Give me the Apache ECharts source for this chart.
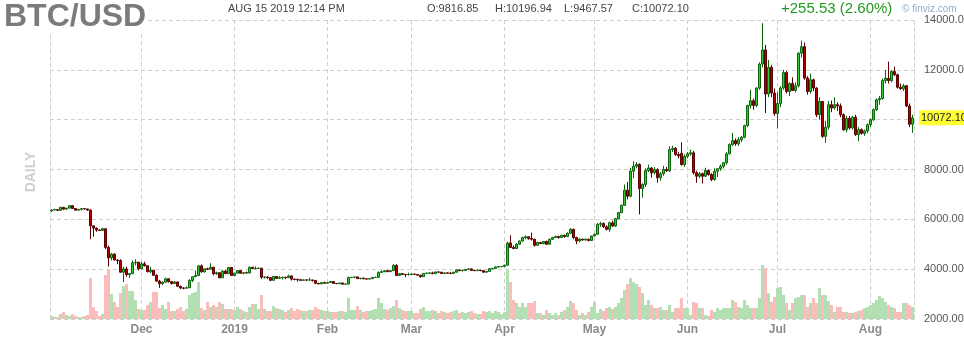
<!DOCTYPE html>
<html>
<head>
<meta charset="utf-8">
<script src="https://cdn.jsdelivr.net/npm/echarts@6/dist/echarts.min.js"></script>
<style>
html,body{margin:0;padding:0;background:#fff;overflow:hidden;}
#chart{width:964px;height:340px;}
</style>
</head>
<body>
<div id="chart"></div>
<script>
// ---- data (daily BTC/USD, 2018-11-01 .. 2019-08-15) ----
const startDate = '2018-11-01';
const dayCount = 288;

const opens = [
// Nov
6340,6377,6388,6361,6483,6410,6451,6550,6434,6368,6400,6428,6416,6373,5738,5648,5575,5554,5623,4871,4451,4602,4365,4347,3880,4009,3779,3820,4257,4278,
// Dec
4017,4214,4139,3894,3956,3753,3521,3419,3476,3614,3502,3424,3486,3313,3242,3236,3253,3545,3696,3745,4134,3896,4014,3998,4078,3815,3857,3654,3923,3820,4070,
// Jan
3743,3843,3943,3837,3858,3845,4076,4025,4030,4035,3678,3687,3661,3553,3706,3630,3655,3678,3657,3728,3602,3589,3575,3552,3569,3565,3566,3550,3434,3411,3458,
// Feb
3434,3462,3504,3427,3418,3447,3398,3401,3667,3674,3689,3621,3639,3612,3602,3619,3667,3673,3870,3900,3940,3900,3940,4150,3750,3820,3790,3780,
// Mar
3790,3800,3790,3760,3700,3830,3840,3850,3820,3890,3880,3830,3850,3840,3830,3880,3970,3940,3950,3990,4010,3950,3940,3960,3940,3880,3910,4020,4030,4090,4100,
// Apr
4110,4160,5050,4870,4830,5000,5130,5270,5300,5230,5200,4960,5070,5030,5110,5000,5200,5270,5310,5270,5360,5310,5440,5600,5270,5130,5200,5170,5200,5150,
// May
5330,5400,5800,5830,5700,5600,5860,5730,6030,6270,6560,7170,6930,7930,8130,8200,7240,7400,7960,8060,7870,7990,7670,7830,8000,7950,8800,8850,8600,8650,8200,
// Jun
8530,8630,8670,7870,7730,7830,7730,7960,7800,7600,7930,8030,8130,8270,8630,9000,9160,9030,9200,9290,9760,10570,10760,10570,11270,12230,12800,11030,12100,11070,
// Jul
10250,10650,11270,11890,11130,11450,11170,11360,12670,12930,11670,11130,11600,11270,10200,10730,9330,9700,10600,10470,10600,10550,10200,9600,10050,9670,10100,9400,9600,9450,9550,
// Aug
9800,10000,10400,10800,10850,11570,11660,11570,11930,11800,11300,11240,11360,10550,9816.85
];

const highs = [
6400,6425,6400,6500,6485,6456,6560,6552,6442,6420,6430,6450,6425,6394,5755,5670,5600,5660,5630,4950,4650,4640,4400,4400,4100,4100,3850,4350,4400,4300,
4300,4300,4140,4100,3970,3790,3570,3510,3660,3630,3520,3530,3500,3340,3275,3305,3600,3700,3950,4140,4190,4020,4060,4240,4080,3900,3870,3950,3970,4090,4080,
3850,3960,3945,3880,3900,4100,4100,4110,4070,4060,3710,3710,3670,3730,3720,3730,3690,3685,3780,3750,3610,3630,3610,3590,3580,3660,3570,3555,3440,3480,3500,
3480,3510,3510,3440,3450,3450,3420,3700,3680,3690,3695,3650,3660,3620,3640,3680,3700,3910,3950,3950,3960,3950,4200,4200,3840,3830,3810,3860,
3830,3820,3800,3770,3840,3860,3870,3900,3900,3900,3890,3870,3870,3890,3890,3990,3980,3990,4000,4030,4030,3980,3980,3970,3950,3920,4030,4040,4100,4120,4120,
4180,5100,5360,4950,5050,5150,5300,5350,5320,5470,5220,5100,5100,5130,5150,5230,5300,5350,5340,5380,5380,5480,5650,5620,5300,5250,5230,5230,5220,5350,
5430,5850,5900,5880,5760,5900,5950,6050,6300,6600,7400,7500,8070,8330,8300,8250,7450,8050,8200,8100,8100,8050,7900,8150,8100,8930,8950,8900,8700,9090,8600,
8700,8800,8750,7950,7900,7880,8070,8000,7850,8050,8050,8200,8300,8700,9050,9470,9250,9300,9350,9800,10600,11200,10850,11300,12300,13870,13000,12400,12200,11250,
11100,11350,12000,11950,11500,11700,11500,12700,13170,13100,11750,11850,11650,11300,10900,10750,9950,10750,10770,10900,10700,10650,10250,10150,10150,10150,10200,9700,9650,9600,9850,
10050,10450,10850,10950,11650,12000,12330,11980,12130,11850,11450,11440,11400,10650,10196.94
];

const lows = [
6300,6365,6340,6350,6375,6388,6440,6420,6350,6360,6355,6395,6340,5200,5300,5500,5530,5540,4800,4100,4350,4360,4200,3850,3480,3700,3650,3800,4150,3950,
4000,4100,3880,3840,3740,3500,3250,3360,3460,3460,3380,3410,3300,3200,3190,3230,3250,3480,3690,3740,3860,3860,3960,3990,3750,3770,3640,3650,3800,3810,3740,
3710,3820,3820,3790,3840,3840,4000,3990,4010,3600,3620,3600,3520,3540,3620,3620,3580,3600,3655,3540,3550,3500,3540,3550,3520,3550,3500,3400,3390,3400,3430,
3420,3450,3420,3400,3410,3390,3390,3390,3640,3640,3610,3590,3600,3580,3600,3610,3650,3660,3850,3880,3880,3890,3930,3720,3730,3760,3680,3750,
3770,3770,3750,3660,3690,3800,3820,3800,3810,3850,3800,3800,3820,3800,3820,3870,3920,3910,3930,3960,3930,3920,3930,3920,3860,3860,3900,3990,4020,4060,4080,
4090,4150,4850,4800,4820,4980,5100,5200,5180,5150,4900,4930,5000,5000,4980,4990,5180,5250,5220,5250,5260,5290,5420,5200,5000,5080,5140,5150,5120,5140,
5320,5390,5700,5650,5550,5500,5700,5700,6000,6250,6550,6800,6880,7650,8050,6200,6870,7300,7900,7670,7800,7470,7550,7750,7900,7900,8700,8550,8450,8150,8100,
8450,8550,7800,7470,7650,7440,7700,7750,7530,7550,7700,7950,8050,8200,8600,8950,8950,8950,9100,9250,9700,10450,10400,10500,11200,12100,10270,10900,10900,10150,
9650,10500,11200,11050,10950,11150,11100,11300,12500,11600,11000,11050,11150,10100,10000,9270,9070,9600,10300,10400,10350,10100,9550,9500,9600,9600,9350,9130,9400,9350,9450,
9700,9950,10350,10600,10800,11450,11450,11500,11750,11250,11200,11150,10500,9700,9467.57
];

const closes = [
6377,6388,6361,6483,6410,6451,6550,6434,6368,6400,6428,6416,6373,5738,5648,5575,5554,5623,4871,4451,4602,4365,4347,3880,4009,3779,3820,4257,4278,4017,
4214,4139,3894,3956,3753,3521,3419,3476,3614,3502,3424,3486,3313,3242,3236,3253,3545,3696,3745,4134,3896,4014,3998,4078,3815,3857,3654,3923,3820,4070,3743,
3843,3943,3837,3858,3845,4076,4025,4030,4035,3678,3687,3661,3553,3706,3630,3655,3678,3657,3728,3602,3589,3575,3552,3569,3565,3566,3550,3434,3411,3458,3434,
3462,3504,3427,3418,3447,3398,3401,3667,3674,3689,3621,3639,3612,3602,3619,3667,3673,3870,3900,3940,3900,3940,4150,3750,3820,3790,3780,3790,
3800,3790,3760,3700,3830,3840,3850,3820,3890,3880,3830,3850,3840,3830,3880,3970,3940,3950,3990,4010,3950,3940,3960,3940,3880,3910,4020,4030,4090,4100,4110,
4160,5050,4870,4830,5000,5130,5270,5300,5230,5200,4960,5070,5030,5110,5000,5200,5270,5310,5270,5360,5310,5440,5600,5270,5130,5200,5170,5200,5150,5330,
5400,5800,5830,5700,5600,5860,5730,6030,6270,6560,7170,6930,7930,8130,8200,7240,7400,7960,8060,7870,7990,7670,7830,8000,7950,8800,8850,8600,8550,8200,8530,
8630,8670,7870,7730,7830,7730,7960,7800,7600,7930,8030,8130,8270,8630,9000,9160,9030,9200,9290,9760,10570,10760,10570,11270,12230,12800,11030,12100,11070,10250,
10650,11270,11890,11130,11450,11170,11360,12670,12930,11670,11130,11600,11270,10200,10730,9330,9700,10600,10470,10600,10550,10200,9600,10050,9670,10100,9400,9600,9450,9550,9800,
10000,10400,10800,10850,11570,11660,11570,11930,11800,11300,11240,11360,10550,9817,10072.10
];

// volume (relative units)
const volumes = [
3,2,2,5,7,4,3,5,3,2,2,3,4,41,12,8,3,5,44,50,25,17,12,26,33,35,28,28,19,10,
9,9,14,17,27,27,11,14,10,17,8,8,10,12,8,10,24,26,27,37,11,9,17,12,14,12,17,15,10,10,10,
9,12,10,8,7,12,15,15,10,24,10,8,8,13,11,10,9,7,9,11,8,10,9,8,8,9,9,12,10,9,8,
8,7,7,7,8,8,7,21,9,9,13,9,7,8,8,9,10,21,16,10,9,11,13,19,11,9,8,8,
8,6,6,10,12,8,8,9,8,6,8,7,6,7,8,9,6,7,6,7,8,6,5,5,8,7,8,6,8,7,5,
7,49,37,19,16,12,16,12,16,16,18,6,6,4,9,6,4,6,4,7,9,12,18,16,9,4,6,4,7,12,
17,6,10,8,11,12,10,12,16,21,29,35,41,37,35,32,26,14,19,14,11,11,12,9,9,14,7,11,11,21,11,
11,4,17,16,11,11,4,3,9,7,11,9,11,11,11,19,17,12,11,19,14,11,11,11,21,54,51,26,17,22,
31,32,24,16,9,16,21,22,24,24,12,16,21,16,31,24,24,18,14,7,12,12,7,7,6,6,7,8,9,11,12,
14,16,19,23,21,17,14,12,11,7,7,16,16,14,12
];

const yTicks = [2000, 4000, 6000, 8000, 10000, 12000, 14000];
const monthNames = ['Jan','Feb','Mar','Apr','May','Jun','Jul','Aug','Sep','Oct','Nov','Dec'];
const lastPrice = 10072.10;

// ---- build ----
[opens, highs, lows, closes, volumes].forEach((a, k) => {
  if (a.length !== dayCount) throw new Error('array ' + k + ' has length ' + a.length);
});

const dates = [];
{
  const t0 = Date.parse(startDate + 'T00:00:00Z');
  for (let i = 0; i < dayCount; i++) {
    dates.push(new Date(t0 + i * 86400000).toISOString().slice(0, 10));
  }
}
const candleData = dates.map((d, i) => [opens[i], closes[i], lows[i], highs[i]]);
const volData = dates.map((d, i) => ({
  value: volumes[i],
  itemStyle: { color: closes[i] >= opens[i] ? '#b2e0b2' : '#fbbcbc' }
}));

const isMonthStart = (idx, val) => idx > 0 && val.slice(8) === '01';
const FONT = '"Liberation Sans", Arial, sans-serif';

const chart = echarts.init(document.getElementById('chart'), null, { renderer: 'canvas' });
chart.setOption({
  animation: false,
  backgroundColor: '#ffffff',
  textStyle: { fontFamily: FONT },
  title: [
    { text: 'BTC/USD', left: 4, top: 1, padding: [0, 2, 0, 0], backgroundColor: '#ffffff',
      textStyle: { fontSize: 32, fontWeight: 'bold', color: '#7b7b7b', fontFamily: FONT } },
    { text: 'AUG 15 2019 12:14 PM', left: 228, top: 3, padding: 0,
      textStyle: { fontSize: 11, fontWeight: 'normal', color: '#444', fontFamily: FONT } },
    { text: 'O:9816.85', left: 427, top: 3, padding: 0,
      textStyle: { fontSize: 11, fontWeight: 'normal', color: '#444', fontFamily: FONT } },
    { text: 'H:10196.94', left: 495, top: 3, padding: 0,
      textStyle: { fontSize: 11, fontWeight: 'normal', color: '#444', fontFamily: FONT } },
    { text: 'L:9467.57', left: 564, top: 3, padding: 0,
      textStyle: { fontSize: 11, fontWeight: 'normal', color: '#444', fontFamily: FONT } },
    { text: 'C:10072.10', left: 632, top: 3, padding: 0,
      textStyle: { fontSize: 11, fontWeight: 'normal', color: '#444', fontFamily: FONT } },
    { text: '+255.53 (2.60%)', left: 781, top: 1, padding: 0,
      textStyle: { fontSize: 15, fontWeight: 'normal', color: '#1f9a1f', fontFamily: FONT } },
    { text: '© finviz.com', left: 902, top: 4, padding: 0,
      textStyle: { fontSize: 10, fontWeight: 'normal', color: '#8fb0cf', fontFamily: FONT } }
  ],
  graphic: [
    { type: 'text', x: 31, y: 172, rotation: Math.PI / 2,
      style: { text: 'DAILY', fill: '#cfcfcf', font: 'bold 14px ' + FONT,
               textAlign: 'center', textVerticalAlign: 'middle' } }
  ],
  grid: { left: 50, right: 50, top: 20, bottom: 21, containLabel: false, outerBoundsMode: 'none' },
  xAxis: {
    type: 'category',
    data: dates,
    boundaryGap: true,
    axisLine: { show: false },
    axisTick: { show: false, alignWithLabel: true },
    axisLabel: {
      interval: isMonthStart,
      formatter: (val) => {
        const m = +val.slice(5, 7);
        return m === 1 ? val.slice(0, 4) : monthNames[m - 1];
      },
      color: '#8a8a8a', fontSize: 12, fontWeight: 'bold', margin: 5, fontFamily: FONT
    },
    splitLine: {
      show: true, interval: isMonthStart, alignWithLabel: true,
      lineStyle: { type: [4, 3], color: '#cfcfcf', width: 1 }
    }
  },
  yAxis: [
    {
      type: 'value', position: 'right', min: yTicks[0], max: yTicks[yTicks.length - 1], interval: 2000,
      axisLine: { show: true, lineStyle: { type: [4, 3], color: '#cfcfcf' } },
      axisTick: { show: false },
      axisLabel: {
        formatter: (v) => (v === 10000 ? '' : v.toFixed(2)),
        color: '#555', fontSize: 11, margin: 10, fontFamily: FONT
      },
      splitLine: { show: true, lineStyle: { type: [4, 3], color: '#cfcfcf', width: 1 } }
    },
    {
      type: 'value', position: 'left', min: 0, max: 299,
      axisLine: { show: true, onZero: false, lineStyle: { type: [4, 3], color: '#cfcfcf' } },
      axisTick: { show: false },
      axisLabel: { show: false },
      splitLine: { show: false }
    }
  ],
  series: [
    {
      name: 'Volume', type: 'bar', xAxisIndex: 0, yAxisIndex: 1,
      data: volData, barCategoryGap: '0%', barGap: '0%', z: 1,
      silent: true
    },
    {
      name: 'BTC/USD', type: 'candlestick', xAxisIndex: 0, yAxisIndex: 0,
      data: candleData, barWidth: '100%', z: 3, clip: false,
      itemStyle: {
        color: '#36c936', color0: '#b50000',
        borderColor: '#0b650b', borderColor0: '#5a0000', borderWidth: 1
      },
      markLine: {
        silent: true, symbol: ['none', 'none'],
        lineStyle: { color: 'rgba(255,255,255,0)', width: 1, type: 'solid' },
        data: [{ yAxis: lastPrice }],
        label: {
          show: true, position: 'end', distance: 5,
          formatter: lastPrice.toFixed(2),
          backgroundColor: '#ffff33', color: '#222', fontSize: 11,
          padding: [2, 2, 2, 2], fontFamily: FONT, opacity: 1
        },
        emphasis: { disabled: true }
      }
    }
  ]
});
</script>
</body>
</html>
